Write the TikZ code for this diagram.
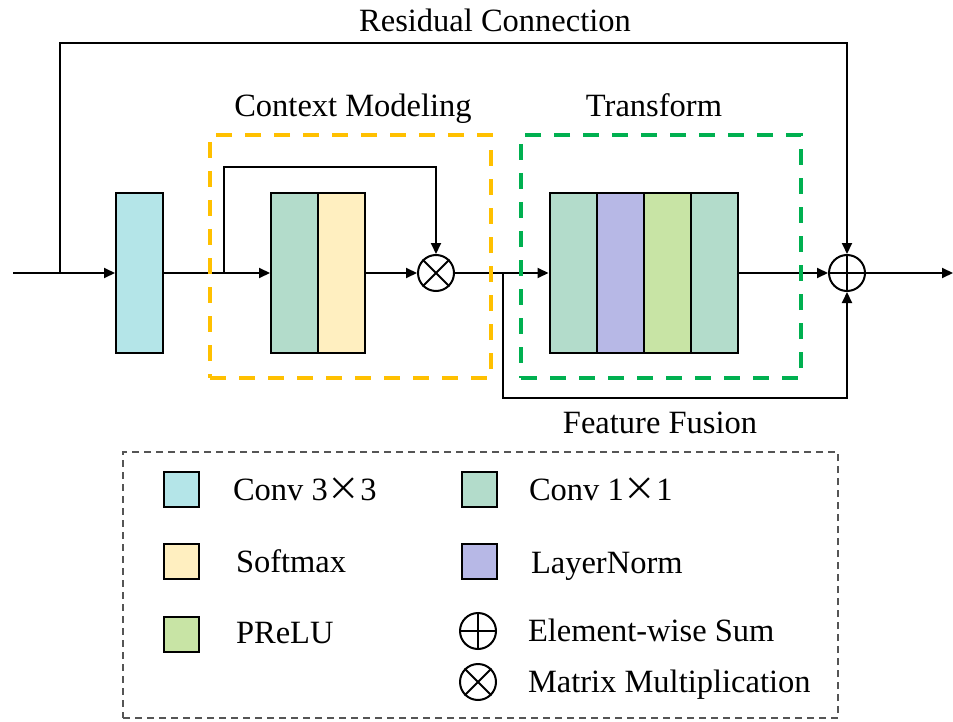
\documentclass[tikz,border=0pt]{standalone}
\usepackage{fontspec}
\setmainfont{Liberation Serif}
\newfontfamily\cjk{Noto Sans CJK SC}
\usetikzlibrary{arrows.meta}
\definecolor{cthree}{HTML}{B4E5E8}
\definecolor{cone}{HTML}{B3DCCB}
\definecolor{csoft}{HTML}{FFEFC0}
\definecolor{cnorm}{HTML}{B7B8E6}
\definecolor{cprelu}{HTML}{C8E4A5}
\definecolor{cyel}{HTML}{FFC000}
\definecolor{cgrn}{HTML}{00B050}
\definecolor{cleg}{HTML}{555555}
\begin{document}
\begin{tikzpicture}[x=1pt,y=-1pt,line width=2pt,font=\fontsize{32.5}{39}\selectfont,
  blk/.style={draw,line width=2pt,inner sep=0pt,minimum width=47pt,minimum height=160pt},
  arr/.style={-{Triangle[length=11pt,width=10pt]},line width=2pt},
  opnode/.style={circle,draw,line width=2pt,minimum size=36pt,inner sep=0pt},
  swatch/.style={draw,line width=2pt,minimum size=35pt,inner sep=0pt},
  lbl/.style={anchor=base west,inner sep=0pt},
  ttl/.style={anchor=base,inner sep=0pt},
  group/.style={draw,line width=4pt,dash pattern=on 16pt off 13pt,inner sep=0pt}]
\useasboundingbox (0,0) rectangle (953,722);
% main blocks
\node[blk,fill=cthree] (c3) at (139.5,273) {};
\node[blk,fill=cone] (a1) at (294.5,273) {};
\node[blk,fill=csoft] (a2) at (341.5,273) {};
\node[opnode] (mul) at (436,273) {};
\draw (mul.north east) -- (mul.south west) (mul.north west) -- (mul.south east);
\node[blk,fill=cone] (t1) at (573,273) {};
\node[blk,fill=cnorm] (t2) at (620,273) {};
\node[blk,fill=cprelu] (t3) at (667,273) {};
\node[blk,fill=cone] (t4) at (714,273) {};
\node[opnode] (sum) at (847,273) {};
\draw (sum.north) -- (sum.south) (sum.west) -- (sum.east);
% coordinates
\coordinate (in) at (13,273);
\coordinate (out) at (953,273);
\coordinate (r1) at (60,273);
\coordinate (b1) at (224,273);
\coordinate (b2) at (503,273);
% connectors
\draw[arr] (in) -- (c3);
\draw[arr] (r1) -- ++(0,-230) -| (sum.north);
\draw[arr] (c3) -- (a1);
\draw[arr] (b1) -- ++(0,-106) -| (mul.north);
\draw[arr] (a2) -- (mul);
\draw[arr] (mul) -- (t1);
\draw[arr] (b2) -- ++(0,125) -| (sum.south);
\draw[arr] (t4) -- (sum);
\draw[arr] (sum) -- (out);
% dashed groups
\node[group,draw=cyel,minimum width=281pt,minimum height=243pt] (cm) at (350.5,256.5) {};
\node[group,draw=cgrn,minimum width=280pt,minimum height=243pt] (tf) at (661,256.5) {};
% titles
\node[ttl] (tres) at (495,32) {Residual Connection};
\node[ttl] (tcm) at (353,117) {Context Modeling};
\node[ttl] (ttf) at (654,117) {Transform};
\node[ttl] (tff) at (660,433) {Feature Fusion};
% legend
\node[draw=cleg,line width=1.5pt,dash pattern=on 7pt off 5pt,inner sep=0pt,minimum width=715pt,minimum height=266pt] (leg) at (480.5,585) {};
\node[swatch,fill=cthree] (l1) at (181,489) {};
\node[swatch,fill=csoft] (l2) at (181,561) {};
\node[swatch,fill=cprelu] (l3) at (181,634) {};
\node[swatch,fill=cone] (l4) at (479,489) {};
\node[swatch,fill=cnorm] (l5) at (479,561) {};
\node[opnode] (l6) at (478,631) {};
\draw (l6.north) -- (l6.south) (l6.west) -- (l6.east);
\node[opnode] (l7) at (478,682) {};
\draw (l7.north east) -- (l7.south west) (l7.north west) -- (l7.south east);
\node[lbl] (x1) at (232,500) {Conv 3{\cjk ×}3};
\node[lbl] (x2) at (235,572) {Softmax};
\node[lbl] (x3) at (235,643) {PReLU};
\node[lbl] (x4) at (528,500) {Conv 1{\cjk ×}1};
\node[lbl] (x5) at (530,573) {LayerNorm};
\node[lbl] (x6) at (527,641) {Element-wise Sum};
\node[lbl] (x7) at (527,692) {Matrix Multiplication};
\end{tikzpicture}
\end{document}
